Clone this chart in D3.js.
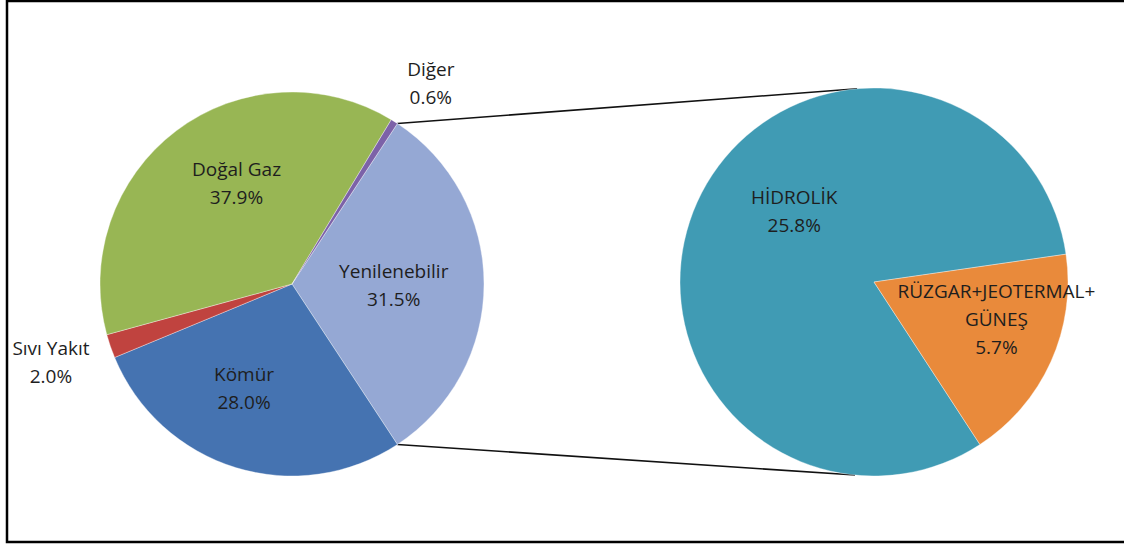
<!DOCTYPE html>
<html>
<head>
<meta charset="utf-8">
<script src="https://cdn.jsdelivr.net/npm/d3@7"></script>
<style>
  html, body { margin: 0; padding: 0; background: #fff; }
  svg { display: block; }
  text { font-family: "Open Sans", Lato, sans-serif; fill: #1e1e1e; }
</style>
</head>
<body>
<svg id="chart" width="1124" height="544"></svg>
<script>
// ---- data ----
const mainCategories = ["Yenilenebilir", "Kömür", "Sıvı Yakıt", "Doğal Gaz", "Diğer"];
const mainValues = [31.5, 28.0, 2.0, 37.9, 0.6];
const mainLabels = [["Yenilenebilir", "31.5%"], ["Kömür", "28.0%"], ["Sıvı Yakıt", "2.0%"], ["Doğal Gaz", "37.9%"], ["Diğer", "0.6%"]];
const subCategories = ["HİDROLİK", "RÜZGAR+JEOTERMAL+GÜNEŞ"];
const subValues = [25.8, 5.7];
const subLabels = [["HİDROLİK", "25.8%"], ["RÜZGAR+JEOTERMAL+", "GÜNEŞ", "5.7%"]];

// ---- styles / layout ----
const mainColors = {"Yenilenebilir": "#95a8d4", "Kömür": "#4573b1", "Sıvı Yakıt": "#c0433f", "Doğal Gaz": "#98b654", "Diğer": "#7c62a8"};
const subColors = {"HİDROLİK": "#409bb4", "RÜZGAR+JEOTERMAL+GÜNEŞ": "#e98a3b"};
const deg = Math.PI / 180;
// label placement: [angle in degrees (clockwise from 12 o'clock), distance as fraction of radius]
const mainLabelPos = {"Yenilenebilir": [90.6, 0.53], "Kömür": [204.6, 0.60], "Sıvı Yakıt": [252, 1.32], "Doğal Gaz": [-28.8, 0.60], "Diğer": [34.7, 1.27]};
const subLabelPos = {"HİDROLİK": [-48.4, 0.55], "RÜZGAR+JEOTERMAL+GÜNEŞ": [107, 0.66]};

const svg = d3.select("#chart");
const W = 1124, H = 544;
const fontSize = 19, lineH = 28;

// frame
svg.append("rect").attr("x", 7).attr("y", 1).attr("width", W + 10).attr("height", 541)
  .attr("fill", "none").attr("stroke", "#000").attr("stroke-width", 2.5);

const main = {cx: 292, cy: 284, r: 192};
const sub = {cx: 874, cy: 282, r: 194};

// main pie: aggregated slice centred at 3 o'clock
const aggSpan = mainValues[0] / d3.sum(mainValues) * 2 * Math.PI;
const mainPie = d3.pie().sort(null).value(d => d.v)
  .startAngle(Math.PI / 2 - aggSpan / 2).endAngle(Math.PI / 2 - aggSpan / 2 + 2 * Math.PI);
const mainData = mainPie(mainCategories.map((c, i) => ({c, v: mainValues[i], label: mainLabels[i]})));
const mainArc = d3.arc().innerRadius(0).outerRadius(main.r);

// secondary pie: HİDROLİK begins where the orange slice ends (aligned with lower edge of aggregated slice)
const subStart = mainData[0].endAngle + 0.2 * deg;
const subPie = d3.pie().sort(null).value(d => d.v).startAngle(subStart).endAngle(subStart + 2 * Math.PI);
const subData = subPie(subCategories.map((c, i) => ({c, v: subValues[i], label: subLabels[i]})));
const subArc = d3.arc().innerRadius(0).outerRadius(sub.r);

function polar(c, a, d) { return [c.cx + Math.sin(a) * d, c.cy - Math.cos(a) * d]; }

// connector lines
const a0 = mainData[0].startAngle, a1 = mainData[0].endAngle;
const conn = [
  [polar(main, a0, main.r), polar(sub, -5 * deg, sub.r)],
  [polar(main, a1, main.r), polar(sub, 185.6 * deg, sub.r)]
];
svg.append("g").selectAll("line").data(conn).join("line")
  .attr("x1", d => d[0][0]).attr("y1", d => d[0][1])
  .attr("x2", d => d[1][0]).attr("y2", d => d[1][1])
  .attr("stroke", "#111").attr("stroke-width", 1.6);

const gMain = svg.append("g").attr("transform", `translate(${main.cx},${main.cy})`);
gMain.selectAll("path").data(mainData).join("path")
  .attr("d", mainArc).attr("fill", d => mainColors[d.data.c])
  .attr("stroke", "#fff").attr("stroke-width", 0.6).attr("stroke-opacity", 0.6);

const gSub = svg.append("g").attr("transform", `translate(${sub.cx},${sub.cy})`);
gSub.selectAll("path").data(subData).join("path")
  .attr("d", subArc).attr("fill", d => subColors[d.data.c])
  .attr("stroke", "#fff").attr("stroke-width", 0.6).attr("stroke-opacity", 0.6);

function drawLabels(data, center, posMap) {
  data.forEach(d => {
    const [ang, f] = posMap[d.data.c];
    const [x, y] = polar(center, ang * deg, f * center.r);
    const lines = d.data.label;
    const t = svg.append("text").attr("text-anchor", "middle").attr("font-size", fontSize);
    lines.forEach((ln, i) => {
      t.append("tspan").attr("x", x)
        .attr("y", y + (i - (lines.length - 1) / 2) * lineH)
        .attr("dy", "0.35em").text(ln);
    });
  });
}
drawLabels(mainData, main, mainLabelPos);
drawLabels(subData, sub, subLabelPos);
</script>
</body>
</html>
